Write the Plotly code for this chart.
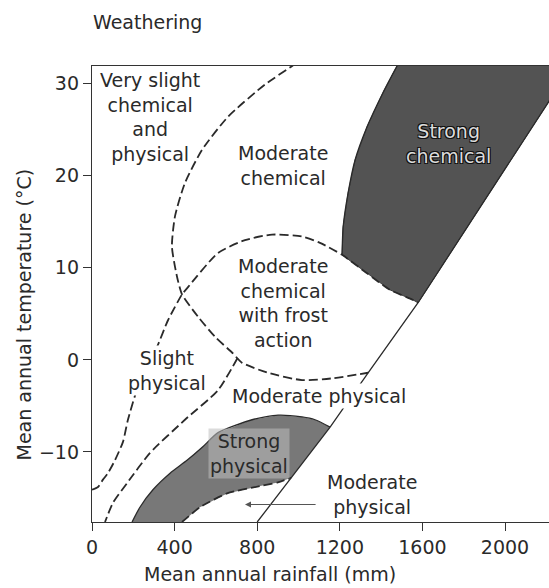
import plotly.graph_objects as go

# ---- boundary curves (rainfall in mm, temperature in degC) ----
# big dashed arc: very slight / moderate chemical, wrapping round the frost zone
arc_rain = [990, 969, 838, 659, 533, 450, 402, 387, 412, 436, 513, 596, 678, 726, 852, 1017, 1167, 1337]
arc_temp = [32.3, 31.9, 29.9, 26.4, 22.8, 19.2, 15.6, 12.3, 9.0, 7.1, 4.7, 2.5, 0.8, -0.3, -1.4, -2.2, -2.0, -1.4]

# dashed curve from the temperature axis up over the frost zone, then under strong chemical
frost_rain = [0, 29, 53, 77, 111, 150, 174, 223, 315, 368, 436, 465, 610, 741, 872, 1017, 1104, 1211,
              1332, 1443, 1555, 1579]
frost_temp = [-14.1, -13.8, -13.0, -12.3, -10.9, -8.9, -6.5, -2.9, 1.4, 4.3, 7.1, 7.9, 11.6, 13.0, 13.6,
              13.4, 12.7, 11.4, 9.4, 7.6, 6.5, 6.2]

# dashed curve: slight physical / moderate physical
slight_rain = [705, 610, 450, 281, 169, 102, 63]
slight_temp = [0.2, -3.3, -6.5, -10.1, -13.4, -15.5, -17.6]

# solid dividing line on the wet side
wet_rain = [800, 964, 1153, 1337, 1579, 2208, 2340]
wet_temp = [-17.6, -12.8, -7.3, -1.4, 6.2, 27.9, 32.5]

# strong chemical zone: left edge (top to bottom) and lower edge
chem_left_rain = [1503, 1477, 1409, 1332, 1274, 1240, 1216, 1211]
chem_left_temp = [33.0, 31.9, 29.0, 25.3, 21.7, 18.1, 14.4, 11.4]
chem_low_rain = [1332, 1443, 1555, 1579]
chem_low_temp = [9.4, 7.6, 6.5, 6.2]

# strong physical zone
phys_up_rain = [194, 232, 295, 378, 460, 538, 610, 775, 901, 1017, 1080, 1153]
phys_up_temp = [-17.6, -16.0, -14.1, -12.3, -10.9, -9.4, -7.9, -6.5, -6.0, -6.2, -6.5, -7.3]
phys_low_rain = [436, 523, 654, 814, 900, 964]
phys_low_temp = [-17.6, -16.0, -14.5, -13.7, -13.3, -12.8]

x_ticks = [0, 400, 800, 1200, 1600, 2000]
y_ticks = [-10, 0, 10, 20, 30]
x_range = [0, 2213]
y_range = [-17.6, 31.9]

FONT = "DejaVu Sans"
FS = 19
INK = "#2a2a2a"
DASH = "9px,4px"

fig = go.Figure()

# strong chemical fill
sc_x = chem_left_rain + chem_low_rain + wet_rain[-2:] + [chem_left_rain[0]]
sc_y = chem_left_temp + chem_low_temp + wet_temp[-2:] + [chem_left_temp[0]]
fig.add_trace(go.Scatter(x=sc_x, y=sc_y, mode="lines", fill="toself",
                         fillcolor="#535353", line=dict(color="#3a3a3a", width=1),
                         hoverinfo="skip", showlegend=False))

# strong physical fill
sp_x = phys_up_rain + [wet_rain[1]] + phys_low_rain[::-1][1:] + [phys_up_rain[0]]
sp_y = phys_up_temp + [wet_temp[1]] + phys_low_temp[::-1][1:] + [phys_up_temp[0]]
fig.add_trace(go.Scatter(x=sp_x, y=sp_y, mode="lines", fill="toself",
                         fillcolor="#787878", line=dict(width=0),
                         hoverinfo="skip", showlegend=False))

def add_line(xs, ys, dash=None, width=1.8):
    fig.add_trace(go.Scatter(x=xs, y=ys, mode="lines",
                             line=dict(color=INK, width=width, dash=dash, shape="spline", smoothing=0.6),
                             hoverinfo="skip", showlegend=False))

add_line(arc_rain, arc_temp, DASH)
add_line(frost_rain, frost_temp, DASH)
add_line(slight_rain, slight_temp, DASH)
add_line(phys_low_rain, phys_low_temp, DASH)
add_line(phys_up_rain, phys_up_temp, None, 1.3)
add_line(chem_left_rain, chem_left_temp, None, 1.3)
fig.add_trace(go.Scatter(x=wet_rain, y=wet_temp, mode="lines",
                         line=dict(color=INK, width=1.3), hoverinfo="skip", showlegend=False))

def label(text, x, y, **kw):
    font = dict(family=FONT, size=FS, color=kw.pop("color", INK))
    if "shadow" in kw:
        font["shadow"] = kw.pop("shadow")
    fig.add_annotation(x=x, y=y, text=text, showarrow=False, font=font,
                       xanchor="center", yanchor="middle", **kw)

label("Very slight<br>chemical<br>and<br>physical", 281, 26.4)
label("Moderate<br>chemical", 925, 21.1)
label("Strong<br>chemical", 1724, 23.5, color="#dcdcdc",
      shadow="1px 1px 0 #111, -1px -1px 0 #111, 1px -1px 0 #111, -1px 1px 0 #111")
label("Moderate<br>chemical<br>with frost<br>action", 925, 6.2)
label("Slight<br>physical", 361, -1.1, bgcolor="white")
label("Moderate physical", 1097, -3.9, bgcolor="white")
label("Strong<br>physical", 760, -10.2, bgcolor="rgba(190,190,190,0.55)")
label("Moderate<br>physical", 1356, -14.6)

fig.add_annotation(x=741, y=-15.7, ax=1090, ay=-15.7, axref="x", ayref="y",
                   text="", showarrow=True, arrowhead=2, arrowsize=1, arrowwidth=1.2,
                   arrowcolor="#555")

# axis titles
fig.add_annotation(xref="paper", yref="paper", x=(270 - 92) / 457, y=-(574 - 522) / 456,
                   text="Mean annual rainfall (mm)", showarrow=False,
                   font=dict(family=FONT, size=FS, color=INK), xanchor="center", yanchor="middle")
fig.add_annotation(xref="paper", yref="paper", x=-(92 - 23) / 457, y=(522 - 314.5) / 456,
                   text="Mean annual temperature (°C)", showarrow=False, textangle=-90,
                   font=dict(family=FONT, size=FS, color=INK), xanchor="center", yanchor="middle")

fig.update_layout(
    width=549, height=588,
    margin=dict(l=92, r=0, t=66, b=66),
    paper_bgcolor="white", plot_bgcolor="white",
    title=dict(text="Weathering", x=93 / 549, xref="container", xanchor="left",
               y=1 - 22 / 588, yanchor="middle",
               font=dict(family=FONT, size=FS, color=INK)),
    xaxis=dict(range=x_range, tickvals=x_ticks, ticks="outside", ticklen=8, tickwidth=1.2,
               tickcolor="#333", showline=True, linecolor="#333", linewidth=1.3, mirror=True,
               showgrid=False, zeroline=False,
               tickfont=dict(family=FONT, size=FS, color=INK)),
    yaxis=dict(range=y_range, tickvals=y_ticks, ticks="outside", ticklen=8, tickwidth=1.2,
               tickcolor="#333", showline=True, linecolor="#333", linewidth=1.3,
               showgrid=False, zeroline=False,
               tickfont=dict(family=FONT, size=FS, color=INK)),
)

fig.write_html("out.html")
